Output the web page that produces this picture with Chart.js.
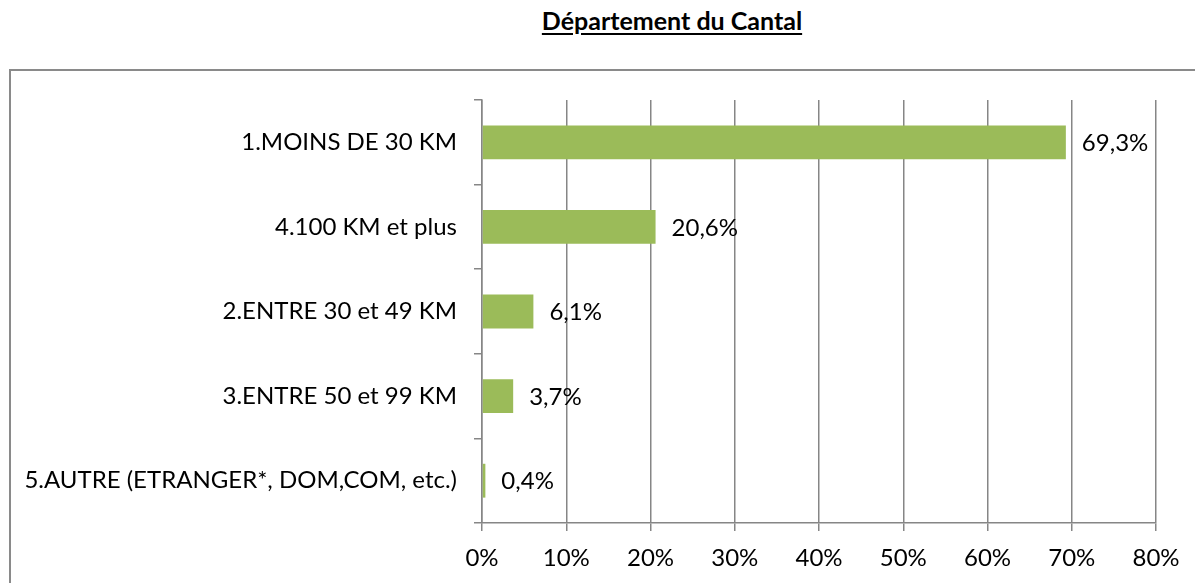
<!DOCTYPE html>
<html lang="fr">
<head>
<meta charset="utf-8">
<title>Département du Cantal</title>
<script src="https://cdn.jsdelivr.net/npm/chart.js@4"></script>
<style>
  html, body { margin: 0; padding: 0; background: #fff; }
  #wrap { position: relative; width: 1195px; height: 583px; overflow: hidden; }
  #title {
    position: absolute; left: 472px; width: 400px; top: 5px; text-align: center;
    font-family: Lato, sans-serif; font-weight: bold; font-size: 25px;
    text-decoration: underline; text-underline-offset: 3px; color: #000;
  }
  #frame {
    position: absolute; left: 9px; top: 69px; width: 1300px; height: 600px;
    border: 2px solid #8a8a8a; box-sizing: border-box;
  }
  #chart { position: absolute; left: 0; top: 0; }
</style>
</head>
<body>
<div id="wrap">
  <div id="title">Département du Cantal</div>
  <div id="frame"></div>
  <canvas id="chart" width="1195" height="583"></canvas>
</div>
<script>
const categories = [
  "1.MOINS DE 30 KM",
  "4.100 KM et plus",
  "2.ENTRE 30 et 49 KM",
  "3.ENTRE 50 et 99 KM",
  "5.AUTRE (ETRANGER*, DOM,COM, etc.)"
];
const values = [69.3, 20.6, 6.1, 3.7, 0.4];
const axisMin = 0;
const axisMax = 80;
const axisStep = 10;

const fontFamily = "Lato, sans-serif";
const gridColor = "#868686";

// étiquettes de valeur à droite des barres
const valueLabels = {
  id: "valueLabels",
  afterDatasetsDraw(chart) {
    const ctx = chart.ctx;
    const meta = chart.getDatasetMeta(0);
    ctx.save();
    ctx.font = "24px " + fontFamily;
    ctx.fillStyle = "#000";
    ctx.textAlign = "left";
    ctx.textBaseline = "middle";
    meta.data.forEach((bar, i) => {
      const txt = values[i].toFixed(1).replace(".", ",") + "%";
      ctx.fillText(txt, bar.x + 16, bar.y + 1);
    });
    ctx.restore();
  }
};

new Chart(document.getElementById("chart"), {
  type: "bar",
  data: {
    labels: categories,
    datasets: [{
      data: values,
      backgroundColor: "#9bbb59",
      borderWidth: 0,
      barPercentage: 0.4,
      categoryPercentage: 1
    }]
  },
  options: {
    indexAxis: "y",
    responsive: false,
    animation: false,
    layout: { padding: { top: 100, right: 39, bottom: 0, left: 0 } },
    plugins: {
      legend: { display: false },
      tooltip: { enabled: false }
    },
    scales: {
      x: {
        min: axisMin,
        max: axisMax,
        ticks: {
          stepSize: axisStep,
          color: "#000",
          padding: 13,
          font: { family: fontFamily, size: 24 },
          callback: v => v + "%"
        },
        grid: { color: gridColor, lineWidth: 1.5, tickLength: 8, drawOnChartArea: true },
        border: { color: gridColor, width: 1.5 },
        afterFit: s => { s.height = 60; }
      },
      y: {
        ticks: {
          color: "#000",
          padding: 17,
          font: { family: fontFamily, size: 24 }
        },
        grid: { color: gridColor, lineWidth: 1.5, tickLength: 8, drawOnChartArea: false, offset: true },
        border: { color: gridColor, width: 1.5 },
        afterFit: s => { s.width = 482; }
      }
    }
  },
  plugins: [valueLabels]
});
</script>
</body>
</html>
